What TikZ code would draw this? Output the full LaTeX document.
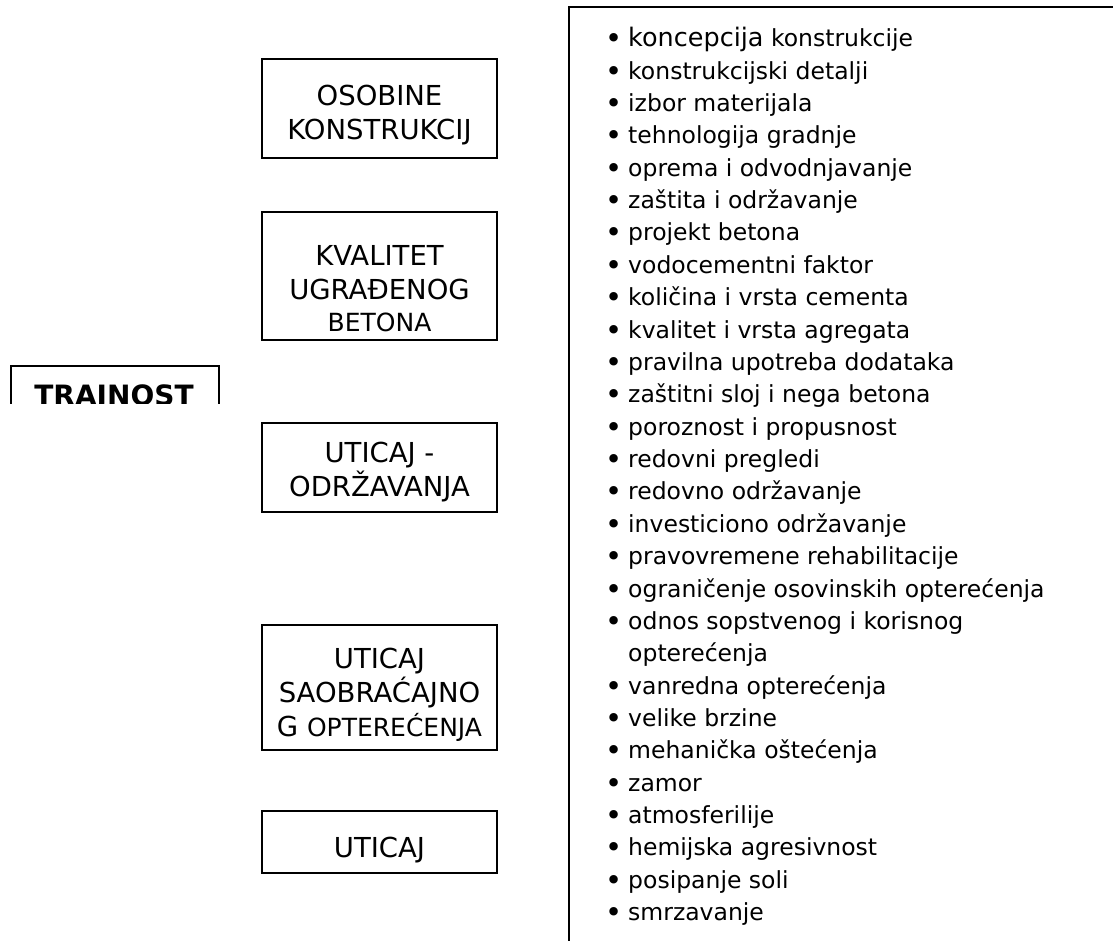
\documentclass[tikz,border=0pt]{standalone}
\usepackage{fontspec}
\setmainfont{DejaVu Sans}
\usepackage{tikz}

\newcommand{\bul}{\makebox[23pt][l]{\raisebox{-2pt}{\fontsize{29}{26}\selectfont•}}}
\newcommand{\nobul}{\hspace{23pt}}

\tikzset{
	box/.style={draw, line width=1.5pt, inner sep=0pt, minimum width=235pt},
	boxtxt/.style={anchor=base, align=center, inner sep=0pt,
		font=\fontsize{27.5}{34}\selectfont},
	item/.style={anchor=base west, inner sep=0pt,
		font=\fontsize{23.5}{26}\selectfont}
}

\begin{document}
\begin{tikzpicture}[x=1pt, y=-1pt]
	\clip (0,0) rectangle (1113,940);
	
	\node[box, minimum height=99pt] (osobine) at (379.5,108.5) {};
	\node[boxtxt] (osobine-txt) at (379.5,139) {OSOBINE\\KONSTRUKCIJ};
	
	\node[box, minimum height=128pt] (kvalitet) at (379.5,276) {};
	\node[boxtxt] (kvalitet-txt) at (379.5,331)
	   {KVALITET\\UGRAĐENOG\\[-2pt]{\fontsize{25}{33}\selectfont BETONA}};
	
	\node[box, minimum height=89pt] (odrzavanje) at (379.5,467.5) {};
	\node[boxtxt] (odrzavanje-txt) at (379.5,496) {UTICAJ -\\ODRŽAVANJA};
	
	\node[box, minimum height=125pt] (saobracaj) at (379.5,687.5) {};
	\node[boxtxt] (saobracaj-txt) at (379.5,736)
	   {UTICAJ\\SAOBRAĆAJNO\\G {\fontsize{25}{33}\selectfont OPTEREĆENJA}};
	
	\node[box, minimum height=62pt] (uticaj) at (379.5,842) {};
	\node[boxtxt] (uticaj-txt) at (379.5,857) {UTICAJ};
	
	\begin{scope}
		\clip (0,360) rectangle (240,403);
		\node[box, minimum width=208pt, minimum height=60pt,
		   anchor=north west] (trajnost) at (10,365) {};
		\node[boxtxt, font=\fontsize{28}{33}\selectfont\bfseries]
		   (trajnost-txt) at (114,405) {TRAJNOST};
	\end{scope}
	
	\draw[line width=2pt] (569,7) rectangle (1130,960);
	
	\foreach \txt [count=\n] in {
	   {\bul{\fontsize{25.5}{26}\selectfont koncepcija} konstrukcije},
	   \bul konstrukcijski detalji,
	   \bul izbor materijala,
	   \bul tehnologija gradnje,
	   \bul oprema i odvodnjavanje,
	   \bul zaštita i održavanje,
	   \bul projekt betona,
	   \bul vodocementni faktor,
	   \bul količina i vrsta cementa,
	   \bul kvalitet i vrsta agregata,
	   \bul pravilna upotreba dodataka,
	   \bul zaštitni sloj i nega betona,
	   \bul poroznost i propusnost,
	   \bul redovni pregledi,
	   \bul redovno održavanje,
	   \bul investiciono održavanje,
	   \bul pravovremene rehabilitacije,
	   \bul ograničenje osovinskih opterećenja,
	   \bul odnos sopstvenog i korisnog,
	   \nobul opterećenja,
	   \bul vanredna opterećenja,
	   \bul velike brzine,
	   \bul mehanička oštećenja,
	   \bul zamor,
	   \bul atmosferilije,
	   \bul hemijska agresivnost,
	   \bul posipanje soli,
	   \bul smrzavanje}
	   \node[item] (li\n) at (605,{46.7+32.37*(\n-1)}) {\txt};
\end{tikzpicture}
\end{document}
